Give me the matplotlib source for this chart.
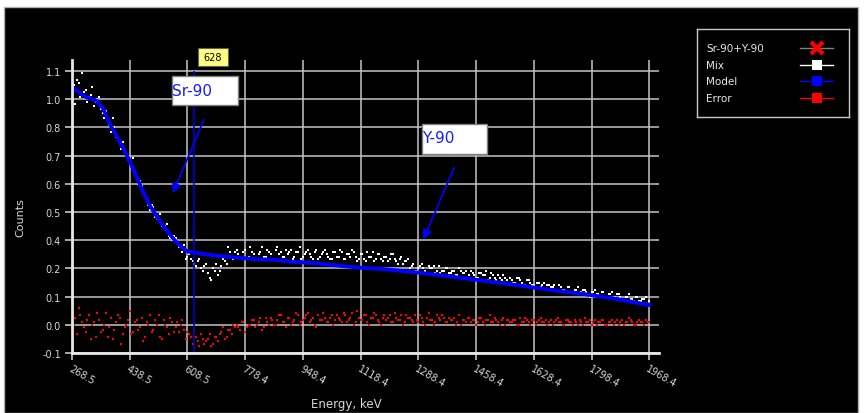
import numpy as np
import matplotlib
matplotlib.use("Agg")
import matplotlib.pyplot as plt
from matplotlib.patches import Rectangle
from matplotlib.lines import Line2D

#----------------------------------------
#--------data------
#----------------------------------------
tick_energies = ["268.5", "438.5", "608.5", "778.4", "948.4", "1118.4",
                 "1288.4", "1458.4", "1628.4", "1798.4", "1968.4"]
count_labels = ["-0.1", "0.0", "0.1", "0.2", "0.4", "0.5",
                "0.6", "0.7", "0.8", "1.0", "1.1"]
marker_energy = 628

# fitted model (Sr-90 + Y-90)
model_energy = [268.5, 312, 341, 361, 380, 405, 430, 449, 474, 498, 523, 548,
                572, 596, 611, 626, 655, 695, 744, 803, 862, 920, 979, 1038,
                1088, 1117, 1186, 1284, 1382, 1480, 1579, 1677, 1775, 1873, 1968.4]
model_counts = [1.03, 0.988, 0.974, 0.938, 0.874, 0.811, 0.740, 0.683, 0.598,
                0.527, 0.470, 0.420, 0.378, 0.343, 0.331, 0.328, 0.321, 0.314,
                0.307, 0.300, 0.297, 0.288, 0.283, 0.274, 0.267, 0.263, 0.257,
                0.243, 0.226, 0.208, 0.189, 0.169, 0.151, 0.130, 0.104]

# measured mix, one value per channel (~10 keV)
mix_counts = [1.07, 0.96, 1.05, 1.09, 1.02, 0.99, 1.03, 0.97, 0.99, 0.92,
              0.93, 0.87, 0.90, 0.82, 0.79, 0.80, 0.74, 0.70, 0.73, 0.64,
              0.63, 0.58, 0.56, 0.51, 0.52, 0.47, 0.49, 0.43, 0.45, 0.39,
              0.40, 0.37, 0.35, 0.36,
              0.31, 0.30, 0.28, 0.29, 0.26, 0.27, 0.24, 0.21, 0.25, 0.23,
              0.27, 0.29, 0.35, 0.31, 0.33,
              0.32, 0.30, 0.34, 0.31, 0.33, 0.30, 0.32, 0.35, 0.31, 0.33,
              0.30, 0.34, 0.32, 0.31, 0.34, 0.33, 0.30, 0.33, 0.35, 0.31,
              0.33, 0.32, 0.30, 0.34, 0.31, 0.33, 0.32, 0.30, 0.33, 0.31,
              0.34, 0.30, 0.32, 0.31, 0.33, 0.29, 0.32, 0.30, 0.33, 0.31,
              0.29, 0.32, 0.30, 0.31, 0.29, 0.32, 0.30, 0.28, 0.31, 0.29, 0.30,
              0.27, 0.25, 0.26, 0.28, 0.25, 0.27, 0.26, 0.24, 0.27, 0.25,
              0.26, 0.24, 0.25, 0.23, 0.26, 0.24, 0.25, 0.23, 0.24, 0.22,
              0.24, 0.23, 0.25, 0.22, 0.23, 0.21, 0.22, 0.23, 0.21, 0.22,
              0.20, 0.22, 0.21, 0.19, 0.21, 0.20, 0.19, 0.20, 0.18, 0.20,
              0.19, 0.18, 0.19, 0.17, 0.18, 0.17, 0.18, 0.16, 0.17, 0.18,
              0.16, 0.17, 0.15, 0.16, 0.17, 0.15, 0.16, 0.14, 0.15, 0.16,
              0.14, 0.15, 0.13, 0.14, 0.15, 0.13, 0.14, 0.12, 0.13, 0.14, 0.12]

# mix, channels in between
mix_counts_mid = [1.04, 1.06, 0.99, 1.01, 0.97, 1.00, 0.95, 0.98, 0.94, 0.90,
                  0.89, 0.84, 0.86, 0.81, 0.77, 0.76, 0.72, 0.71, 0.66, 0.62,
                  0.61, 0.57, 0.53, 0.53, 0.48, 0.46, 0.44, 0.44, 0.40, 0.38,
                  0.39, 0.35, 0.33,
                  0.30, 0.32, 0.29, 0.27, 0.30, 0.25, 0.28, 0.22, 0.26, 0.28,
                  0.25, 0.30, 0.28, 0.33, 0.30,
                  0.34, 0.31, 0.33, 0.30, 0.35, 0.32, 0.30, 0.33, 0.31, 0.34,
                  0.32, 0.30, 0.35, 0.33, 0.31, 0.32, 0.34, 0.31, 0.33, 0.30,
                  0.32, 0.34, 0.31, 0.33, 0.30, 0.32, 0.34, 0.31, 0.30, 0.33,
                  0.31, 0.33, 0.30, 0.32, 0.34, 0.31, 0.30, 0.32, 0.29, 0.31,
                  0.33, 0.30, 0.32, 0.29, 0.31, 0.30, 0.32, 0.29, 0.30, 0.28, 0.29,
                  0.26, 0.28, 0.25, 0.27, 0.26, 0.24, 0.26, 0.27, 0.25, 0.24,
                  0.25, 0.26, 0.24, 0.25, 0.23, 0.25, 0.24, 0.22, 0.25, 0.23,
                  0.22, 0.24, 0.23, 0.21, 0.24, 0.22, 0.23, 0.21, 0.22, 0.20,
                  0.21, 0.20, 0.22, 0.20, 0.19, 0.21, 0.19, 0.18, 0.20, 0.19,
                  0.17, 0.19, 0.18, 0.17, 0.19, 0.17, 0.16, 0.18, 0.16, 0.17,
                  0.15, 0.17, 0.16, 0.14, 0.16, 0.15, 0.14, 0.16, 0.14, 0.15,
                  0.13, 0.15, 0.14, 0.12, 0.14, 0.13, 0.12, 0.14, 0.12, 0.13, 0.11]

# fit error, same channels
error_counts = [-0.10, 0.05, 0.09, 0.03, -0.01, 0.06, 0.02, -0.03, 0.04, 0.00,
                0.07, 0.01, -0.04, 0.03, 0.05, -0.02, 0.02, 0.08, -0.01, 0.04,
                0.01, -0.05, 0.03, 0.06, 0.00, 0.02, -0.03, 0.04, 0.01, 0.05,
                -0.01, 0.03, 0.02, 0.00,
                -0.01, -0.03, 0.00, -0.05, -0.02, -0.06, -0.04, -0.07, -0.03, -0.05,
                -0.01, -0.04, 0.00, -0.02, 0.01,
                0.01, 0.03, -0.01, 0.02, 0.04, 0.01, 0.03, 0.00, 0.05, 0.02,
                0.04, 0.02, 0.06, 0.03, 0.01, 0.05, 0.03, 0.07, 0.02, 0.04,
                0.06, 0.03, 0.05, 0.01, 0.04, 0.07, 0.03, 0.05, 0.02, 0.06,
                0.04, 0.07, 0.03, 0.05, 0.02, 0.08, 0.04, 0.06, 0.03, 0.05,
                0.07, 0.04, 0.02, 0.06, 0.05, 0.03, 0.07, 0.04, 0.06, 0.03, 0.05,
                0.04, 0.06, 0.03, 0.05, 0.02, 0.07, 0.04, 0.03, 0.05, 0.06,
                0.03, 0.05, 0.04, 0.02, 0.06, 0.04, 0.03, 0.05, 0.04, 0.02,
                0.05, 0.03, 0.04, 0.06, 0.03, 0.04, 0.02, 0.05, 0.04, 0.03,
                0.04, 0.02, 0.05, 0.03, 0.04, 0.02, 0.04, 0.03, 0.05, 0.03,
                0.02, 0.04, 0.03, 0.05, 0.03, 0.02, 0.04, 0.03, 0.04, 0.02,
                0.03, 0.05, 0.03, 0.02, 0.04, 0.03, 0.04, 0.02, 0.03, 0.04,
                0.03, 0.02, 0.04, 0.03, 0.05, 0.03, 0.02, 0.04, 0.03, 0.04, 0.03]

error_counts_mid = [0.02, -0.02, 0.06, 0.01, 0.04, -0.04, 0.03, 0.07, -0.01, 0.02,
                    -0.03, 0.05, 0.00, 0.06, -0.06, 0.01, 0.04, -0.02, 0.03, 0.00,
                    0.05, -0.03, 0.02, -0.01, 0.04, 0.06, -0.04, 0.02, -0.02, 0.03,
                    0.01, -0.01, 0.04,
                    -0.04, -0.02, -0.06, -0.03, -0.07, -0.04, -0.05, -0.02, -0.06,
                    -0.03, -0.02, 0.01, -0.03, 0.00, 0.02,
                    0.02, 0.00, 0.03, 0.01, 0.02, 0.04, 0.02, 0.05, 0.01, 0.03,
                    0.05, 0.02, 0.04, 0.06, 0.03, 0.05, 0.02, 0.04, 0.06, 0.03,
                    0.05, 0.07, 0.04, 0.02, 0.06, 0.04, 0.05, 0.03, 0.06, 0.04,
                    0.05, 0.03, 0.06, 0.04, 0.07, 0.03, 0.05, 0.04, 0.06, 0.02,
                    0.05, 0.06, 0.03, 0.05, 0.04, 0.06, 0.03, 0.05, 0.04, 0.02, 0.06,
                    0.05, 0.03, 0.04, 0.06, 0.03, 0.05, 0.04, 0.02, 0.06, 0.04,
                    0.05, 0.03, 0.04, 0.05, 0.03, 0.02, 0.04, 0.05, 0.03, 0.04,
                    0.03, 0.05, 0.02, 0.04, 0.03, 0.05, 0.03, 0.04, 0.02, 0.04,
                    0.03, 0.04, 0.02, 0.03, 0.05, 0.03, 0.04, 0.02, 0.04, 0.03,
                    0.04, 0.03, 0.02, 0.04, 0.03, 0.02, 0.04, 0.03, 0.02, 0.03,
                    0.04, 0.02, 0.03, 0.04, 0.03, 0.02, 0.03, 0.04, 0.02, 0.03,
                    0.02, 0.04, 0.03, 0.02, 0.03, 0.04, 0.02, 0.03, 0.03, 0.02, 0.03]

channel_energy = np.linspace(268.5, 1968.4, len(mix_counts))
mid_energy = (channel_energy[:-1] + channel_energy[1:]) / 2

#----------------------------------------
#--------figure---------------------------
#----------------------------------------
W, H = 864, 414
fig = plt.figure(figsize=(W / 100, H / 100), dpi=100, facecolor="white")

def fp(x, y):
    # pixel (from top-left) -> figure fraction
    return x / W, 1 - y / H

fig.add_artist(Rectangle(fp(4, 414), 854 / W, 406 / H, transform=fig.transFigure,
                         facecolor="black", edgecolor="#b0b0b0", lw=1, zorder=-10))

ax = fig.add_axes([72 / W, 60 / H, (659 - 72) / W, (354 - 61) / H])
ax.set_facecolor("black")

for e, c in [(channel_energy, mix_counts), (mid_energy, mix_counts_mid)]:
    ax.plot(e, c, "s", color="white", ms=1.8, mew=0)
ax.plot(model_energy, model_counts, "-", color="#0000ff", lw=2.8)
for e, c in [(channel_energy, error_counts), (mid_energy, error_counts_mid)]:
    ax.plot(e, c, "s", color="#ff0000", ms=1.8, mew=0)
ax.vlines(marker_energy, -0.1, 1.1, color="#0000dd", lw=1.1)

ax.set_xlim(268.5, 1997)
ax.set_ylim(-0.1, 1.147)
ax.set_xticks([float(t) for t in tick_energies])
ax.set_xticklabels(tick_energies, rotation=-30, ha="left", va="top",
                   rotation_mode="anchor")
ax.set_yticks(np.linspace(-0.1, 1.1, len(count_labels)))
ax.set_yticklabels(count_labels)
ax.grid(True, color="#c4c4c4", lw=1.1)
ax.set_axisbelow(True)
ax.tick_params(colors="#d8d8d8", labelsize=7, length=5, width=1.1, pad=3)
ax.tick_params(axis="x", pad=2)
for side in ["top", "right"]:
    ax.spines[side].set_visible(False)
for side in ["left", "bottom"]:
    ax.spines[side].set_color("#e8e8e8")
    ax.spines[side].set_linewidth(2)

fig.text(*fp(20, 218), "Counts", rotation=90, color="#d8d8d8", fontsize=8,
         ha="center", va="center")
fig.text(*fp(346, 405), "Energy, keV", color="#d8d8d8", fontsize=8.5,
         ha="center", va="center")

#--------marker label and annotations-----
fig.add_artist(Rectangle(fp(198, 67), 30 / W, 18 / H, transform=fig.transFigure,
                         facecolor="#ffff80", edgecolor="#606060", lw=0.8))
fig.text(*fp(213, 58), str(marker_energy), color="black", fontsize=7,
         ha="center", va="center")

fig.add_artist(Rectangle(fp(172, 106), 66 / W, 29 / H, transform=fig.transFigure,
                         facecolor="white", edgecolor="#808080", lw=1, zorder=5))
fig.text(*fp(172, 92), "Sr-90", color="#1a1aff", fontsize=11, ha="left",
         va="center", zorder=6)
ax.annotate("", xy=(562, 0.569), xytext=(660, 0.904),
            arrowprops=dict(arrowstyle="-|>", color="#0000ff", lw=1.2,
                            mutation_scale=14))

fig.add_artist(Rectangle(fp(422, 155), 65 / W, 30 / H, transform=fig.transFigure,
                         facecolor="white", edgecolor="#808080", lw=1, zorder=5))
fig.text(*fp(422, 139), "Y-90", color="#1a1aff", fontsize=11, ha="left",
         va="center", zorder=6)
ax.annotate("", xy=(1300, 0.372), xytext=(1397, 0.70),
            arrowprops=dict(arrowstyle="-|>", color="#0000ff", lw=1.2,
                            mutation_scale=14))

#--------legend----------------------------
lg = fig.add_axes([697 / W, 1 - 118 / H, 152 / W, 88 / H])
lg.set_facecolor("black")
lg.set_xlim(0, 152)
lg.set_ylim(88, 0)
lg.set_xticks([])
lg.set_yticks([])
for s in lg.spines.values():
    s.set_color("#c8c8c8")
    s.set_linewidth(1)

legend_names = ["Sr-90+Y-90", "Mix", "Model", "Error"]
legend_colors = ["#808080", "white", "#0000ff", "#ff0000"]
for i, (name, col) in enumerate(zip(legend_names, legend_colors)):
    yy = 19.3 + 16.5 * i
    lg.text(9, yy, name, color="#e8e8e8", fontsize=7.5, va="center", ha="left")
    lg.add_line(Line2D([103, 136], [yy, yy], color=col, lw=1))
    if i == 0:
        lg.plot(120, yy, marker="x", color="#ff0000", ms=9, mew=3)
    else:
        lg.plot(120, yy, marker="s", color=col, ms=7, mew=0)

fig.savefig("out.png", dpi=100, facecolor=fig.get_facecolor())
